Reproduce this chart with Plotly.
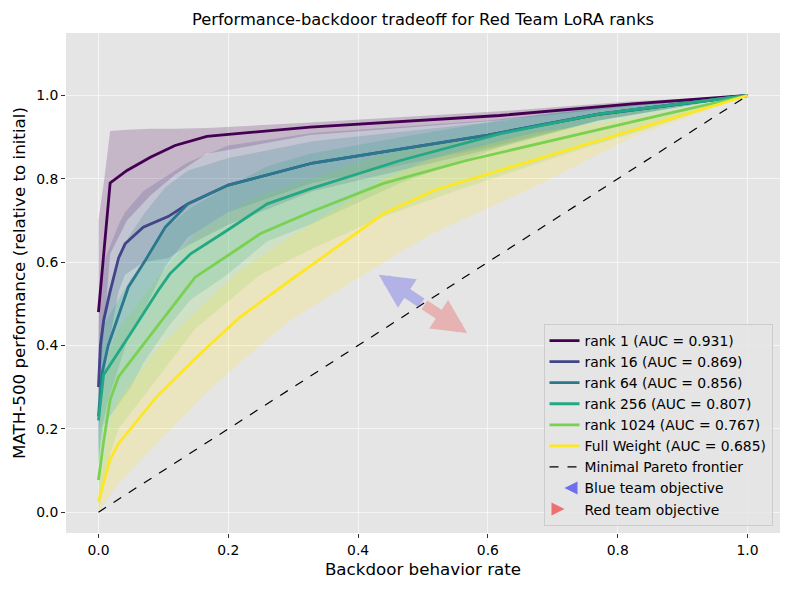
import plotly.graph_objects as go

# ---------------- data ----------------
labels = ["rank 1 (AUC = 0.931)", "rank 16 (AUC = 0.869)", "rank 64 (AUC = 0.856)",
          "rank 256 (AUC = 0.807)", "rank 1024 (AUC = 0.767)", "Full Weight (AUC = 0.685)"]
colors = ["#440154", "#414487", "#2a788e", "#22a884", "#7ad151", "#fde725"]

x_r1 = [0.0, 0.009, 0.018, 0.044, 0.08, 0.118, 0.167, 0.326, 0.618, 0.823, 1.0]
y_r1 = [0.48, 0.64, 0.79, 0.82, 0.852, 0.88, 0.902, 0.924, 0.952, 0.98, 1.0]
hi_r1 = [0.70, 0.80, 0.915, 0.918, 0.92, 0.92, 0.922, 0.935, 0.962, 0.986, 1.0]
lo_r1 = [0.27, 0.45, 0.62, 0.70, 0.76, 0.81, 0.86, 0.905, 0.94, 0.975, 1.0]

x_r16 = [0.0, 0.003, 0.008, 0.018, 0.031, 0.041, 0.069, 0.108, 0.138, 0.2, 0.33, 0.6, 0.77, 1.0]
y_r16 = [0.30, 0.40, 0.46, 0.53, 0.61, 0.644, 0.684, 0.71, 0.74, 0.785, 0.838, 0.905, 0.955, 1.0]
hi_r16 = [0.45, 0.55, 0.60, 0.64, 0.69, 0.72, 0.77, 0.81, 0.84, 0.88, 0.91, 0.94, 0.97, 1.0]
lo_r16 = [0.15, 0.25, 0.32, 0.42, 0.53, 0.57, 0.60, 0.61, 0.64, 0.69, 0.77, 0.87, 0.94, 1.0]

x_r64 = [0.0, 0.005, 0.015, 0.028, 0.046, 0.072, 0.103, 0.138, 0.2, 0.33, 0.6, 0.77, 1.0]
y_r64 = [0.23, 0.33, 0.40, 0.46, 0.54, 0.604, 0.684, 0.74, 0.785, 0.838, 0.905, 0.955, 1.0]
hi_r64 = [0.35, 0.46, 0.53, 0.59, 0.66, 0.72, 0.78, 0.82, 0.85, 0.89, 0.935, 0.97, 1.0]
lo_r64 = [0.11, 0.20, 0.27, 0.33, 0.42, 0.49, 0.59, 0.66, 0.72, 0.79, 0.875, 0.94, 1.0]

x_r256 = [0.0, 0.008, 0.05, 0.07, 0.092, 0.11, 0.142, 0.198, 0.26, 0.326, 0.465, 0.618, 0.772, 1.0]
y_r256 = [0.22, 0.33, 0.43, 0.479, 0.532, 0.572, 0.62, 0.676, 0.74, 0.776, 0.844, 0.908, 0.956, 1.0]
hi_r256 = [0.32, 0.45, 0.56, 0.60, 0.65, 0.69, 0.73, 0.78, 0.83, 0.86, 0.90, 0.94, 0.975, 1.0]
lo_r256 = [0.12, 0.21, 0.30, 0.36, 0.41, 0.45, 0.51, 0.57, 0.65, 0.69, 0.79, 0.875, 0.94, 1.0]

x_r1024 = [0.0, 0.008, 0.018, 0.031, 0.095, 0.149, 0.211, 0.249, 0.326, 0.439, 0.567, 0.72, 0.875, 1.0]
y_r1024 = [0.077, 0.17, 0.27, 0.325, 0.455, 0.564, 0.628, 0.668, 0.72, 0.789, 0.844, 0.9, 0.956, 1.0]
hi_r1024 = [0.18, 0.29, 0.39, 0.44, 0.57, 0.67, 0.73, 0.76, 0.80, 0.86, 0.90, 0.94, 0.975, 1.0]
lo_r1024 = [0.0, 0.06, 0.14, 0.20, 0.33, 0.44, 0.52, 0.57, 0.63, 0.71, 0.78, 0.86, 0.935, 1.0]

x_fw = [0.0, 0.018, 0.031, 0.09, 0.162, 0.218, 0.295, 0.439, 0.516, 0.67, 0.823, 1.0]
y_fw = [0.025, 0.127, 0.165, 0.278, 0.388, 0.468, 0.556, 0.716, 0.772, 0.844, 0.916, 1.0]
hi_fw = [0.05, 0.22, 0.27, 0.39, 0.50, 0.58, 0.66, 0.80, 0.85, 0.91, 0.945, 1.0]
lo_fw = [0.0, 0.04, 0.07, 0.165, 0.28, 0.36, 0.46, 0.60, 0.67, 0.78, 0.90, 1.0]

frontier_x = [0.0, 1.0]
frontier_y = [0.0, 1.0]

arrow_origin = (0.5, 0.5)
blue_tip = (0.432, 0.57)
red_tip = (0.568, 0.43)

tick_vals = [0, 0.2, 0.4, 0.6, 0.8, 1.0]
tick_text = ["0.0", "0.2", "0.4", "0.6", "0.8", "1.0"]

series = [
    (x_r1, y_r1, lo_r1, hi_r1),
    (x_r16, y_r16, lo_r16, hi_r16),
    (x_r64, y_r64, lo_r64, hi_r64),
    (x_r256, y_r256, lo_r256, hi_r256),
    (x_r1024, y_r1024, lo_r1024, hi_r1024),
    (x_fw, y_fw, lo_fw, hi_fw),
]


def rgba(hexc, a):
    h = hexc.lstrip("#")
    r, g, b = int(h[0:2], 16), int(h[2:4], 16), int(h[4:6], 16)
    return f"rgba({r},{g},{b},{a})"


fig = go.Figure()

# shaded bands first
for (xs, ys, lo, hi), c in zip(series, colors):
    fig.add_trace(go.Scatter(
        x=list(xs) + list(xs[::-1]), y=list(hi) + list(lo[::-1]),
        fill="toself", fillcolor=rgba(c, 0.2), line=dict(width=0),
        mode="lines", hoverinfo="skip", showlegend=False))

for (xs, ys, lo, hi), c, lab in zip(series, colors, labels):
    fig.add_trace(go.Scatter(x=xs, y=ys, mode="lines", name=lab,
                             line=dict(color=c, width=2.8)))

fig.add_trace(go.Scatter(x=frontier_x, y=frontier_y, mode="lines",
                         name="Minimal Pareto frontier",
                         line=dict(color="black", width=1.2, dash="dash")))

fig.add_trace(go.Scatter(x=[None], y=[None], mode="markers", name="Blue team objective",
                         marker=dict(symbol="arrow-left", size=13, color="rgba(90,90,240,0.85)",
                                     line=dict(width=0))))
fig.add_trace(go.Scatter(x=[None], y=[None], mode="markers", name="Red team objective",
                         marker=dict(symbol="arrow-right", size=13, color="rgba(240,90,90,0.85)",
                                     line=dict(width=0))))

for tip, col in [(blue_tip, "rgba(110,110,235,0.42)"), (red_tip, "rgba(235,110,110,0.42)")]:
    fig.add_annotation(x=tip[0], y=tip[1], ax=arrow_origin[0], ay=arrow_origin[1],
                       xref="x", yref="y", axref="x", ayref="y", text="",
                       showarrow=True, arrowhead=2, arrowsize=0.65, arrowwidth=10.5,
                       arrowcolor=col, standoff=0, startstandoff=0)

# page body adds an 8px offset, so margins are compensated
fig.update_layout(
    width=790, height=590,
    margin=dict(l=57.5, r=17.5, t=24.5, b=65.3, autoexpand=False),
    paper_bgcolor="white", plot_bgcolor="#e5e5e5",
    font=dict(family="DejaVu Sans", size=13.9, color="black"),
    title=dict(text="Performance-backdoor tradeoff for Red Team LoRA ranks",
               x=0.5, xref="paper", xanchor="center",
               y=1 - 11 / 590, yref="container", yanchor="middle",
               font=dict(size=16.3, color="black")),
    legend=dict(x=0.9895, y=0.014, xanchor="right", yanchor="bottom",
                bgcolor="rgba(229,229,229,0.8)", bordercolor="#cccccc", borderwidth=1,
                font=dict(size=13.9), tracegroupgap=0),
    showlegend=True,
)
fig.update_xaxes(range=[-0.05, 1.05], tickvals=tick_vals, ticktext=tick_text,
                 showgrid=True, gridcolor="rgba(255,255,255,0.6)", gridwidth=0.8, zeroline=False,
                 automargin=False,
                 ticks="outside", ticklen=4, tickcolor="#333", tickfont=dict(size=13.9),
                 title=dict(text="Backdoor behavior rate", font=dict(size=16.7), standoff=6))
fig.update_yaxes(range=[-0.05, 1.15], tickvals=tick_vals, ticktext=tick_text,
                 showgrid=True, gridcolor="rgba(255,255,255,0.6)", gridwidth=0.8, zeroline=False,
                 automargin=False,
                 ticks="outside", ticklen=4, tickcolor="#333", tickfont=dict(size=13.9),
                 title=dict(text="MATH-500 performance (relative to initial)", font=dict(size=16.7), standoff=6))

fig.write_html("out.html")
